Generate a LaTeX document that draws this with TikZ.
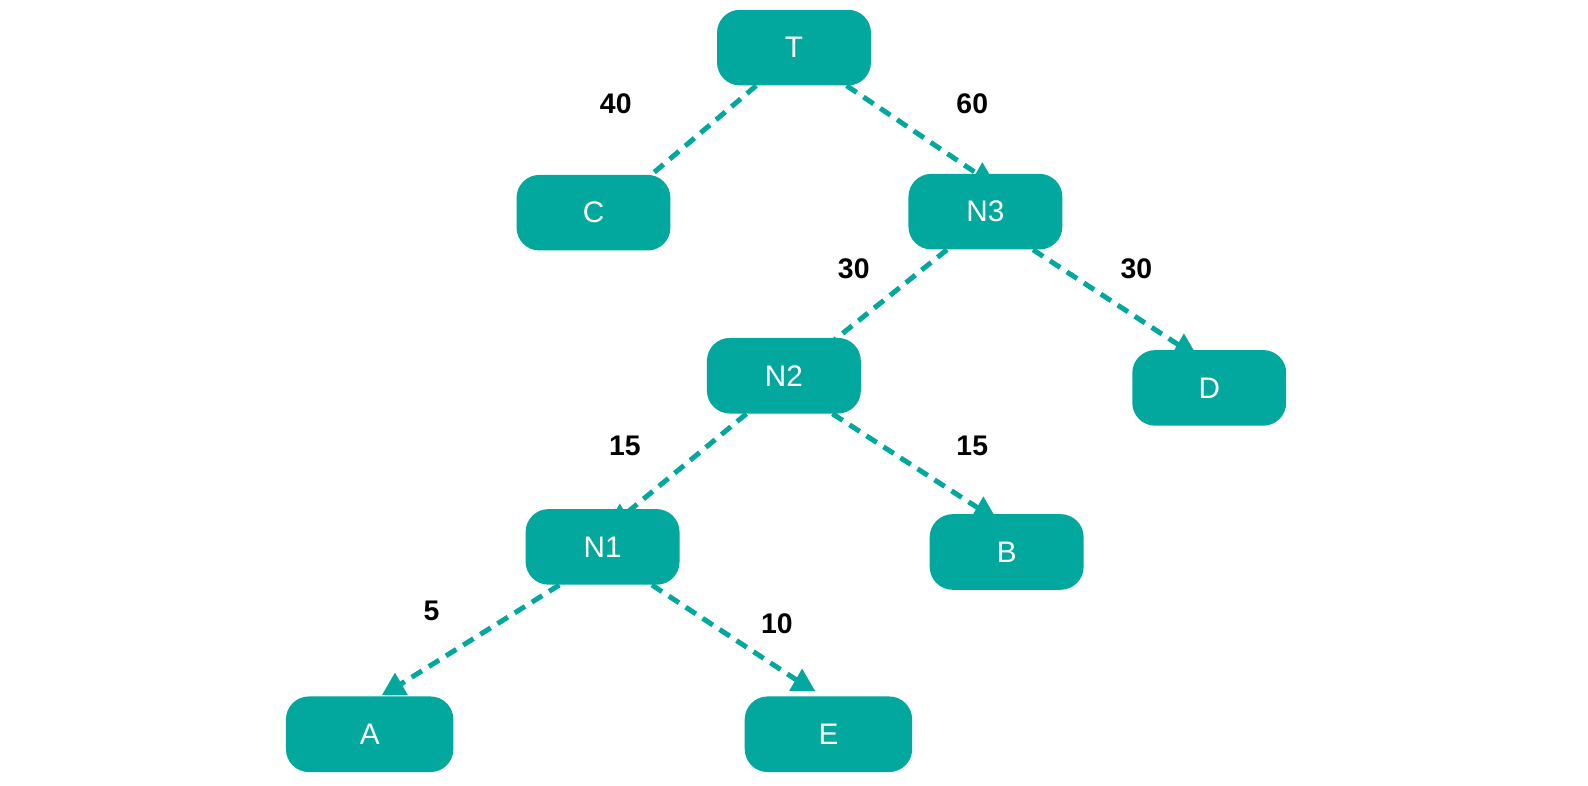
\documentclass[tikz,border=0pt]{standalone}
\usepackage{fontspec}
\setmainfont{Liberation Sans}
\usetikzlibrary{shapes.geometric}
\definecolor{teal1}{HTML}{02A89E}
\pgfdeclarelayer{bg}
\pgfsetlayers{bg,main}
\begin{document}
\begin{tikzpicture}[x=0.75pt,y=-0.75pt,
  box/.style={fill=teal1, rounded corners=17pt, minimum width=114pt, minimum height=56pt, inner sep=0pt, text=white, font=\fontsize{22}{25}\selectfont},
  wide/.style={minimum width=124pt},
  edge/.style={draw=teal1, line width=3.7pt, dash pattern=on 9pt off 6pt},
  tipmark/.style={regular polygon, regular polygon sides=3, fill=teal1, inner sep=0pt, minimum size=22.3pt},
  lbl/.style={font=\bfseries\fontsize{21}{24}\selectfont, text=black}]
\useasboundingbox (0,0) rectangle (1568,776);
% boxes
\node[box] (T)  at (784,47)  {T};
\node[box] (C)  at (586,210) {C};
\node[box] (N3) at (973,209) {N3};
\node[box] (N2) at (774,371) {N2};
\node[box] (D)  at (1194,383) {D};
\node[box] (N1) at (595,540) {N1};
\node[box] (B)  at (994,545) {B};
\node[box,wide] (A) at (365,725) {A};
\node[box,wide] (E) at (818,725) {E};
% labels
\node[lbl] (l40) at (608,102) {40};
\node[lbl] (l60) at (960,102) {60};
\node[lbl] (l30a) at (843,265) {30};
\node[lbl] (l30b) at (1122,265) {30};
\node[lbl] (l15a) at (617,440) {15};
\node[lbl] (l15b) at (960,440) {15};
\node[lbl] (l5) at (426,603) {5};
\node[lbl] (l10) at (767,616) {10};
\begin{pgfonlayer}{bg}
  \node[tipmark] (tN3) at (970,175) {};
  \node[tipmark] (tD)  at (1169,344) {};
  \node[tipmark] (tB)  at (971,505) {};
  \node[tipmark] (tN1) at (612,512) {};
  \node[tipmark] (tA)  at (390,679) {};
  \node[tipmark] (tE)  at (792,675) {};
  \draw[edge] ([xshift=-28pt]T.south) -- ([xshift=39.4pt,yshift=-3pt]C.north);
  \draw[edge] ([xshift=39pt]T.south) -- (tN3.center);
  \draw[edge] ([xshift=-28.5pt]N3.south) -- ([xshift=36.75pt,yshift=-2.25pt]N2.north);
  \draw[edge] ([xshift=35.25pt]N3.south) -- (tD.center);
  \draw[edge] ([xshift=-27.75pt]N2.south) -- (tN1.center);
  \draw[edge] ([xshift=36pt]N2.south) -- (tB.center);
  \draw[edge] ([xshift=-32pt]N1.south) -- (tA.center);
  \draw[edge] ([xshift=36.5pt]N1.south) -- (tE.center);
\end{pgfonlayer}
\end{tikzpicture}
\end{document}
